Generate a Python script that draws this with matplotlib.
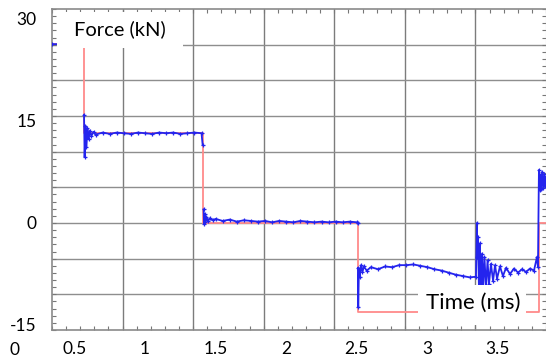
import numpy as np
import matplotlib
matplotlib.use('Agg')
import matplotlib.pyplot as plt
from matplotlib.patches import Rectangle
from matplotlib.ticker import FixedLocator

plt.rcParams['font.family'] = ['Lato', 'DejaVu Sans']

# commanded force (kN) vs time (ms)
cmd_t = [0.341, 0.568, 0.568, 1.410, 1.410, 2.505, 2.505, 3.788, 3.788, 3.840]
cmd_f = [26.3, 26.3, 13.2, 13.2, 0.0, 0.0, -13.1, -13.1, 0.0, 0.0]

# measured force (kN) vs time (ms), nan = no samples drawn on the fast edges
meas_t = [0.341, 0.450, 0.560, np.nan,
          0.568, 0.572, 0.578, 0.585, 0.592, 0.600, 0.610, 0.620, 0.635,
          0.650, 0.700, 0.750, 0.800, 0.850, 0.900, 0.950, 1.000, 1.050,
          1.100, 1.150, 1.200, 1.250, 1.300, 1.350, 1.400, 1.408, np.nan,
          1.415, 1.418, 1.422, 1.428, 1.435, 1.445, 1.460, 1.480, 1.500,
          1.550, 1.600, 1.650, 1.700, 1.750, 1.800, 1.850, 1.900, 1.950,
          2.000, 2.050, 2.100, 2.150, 2.200, 2.250, 2.300, 2.350, 2.400,
          2.450, 2.500, 2.505, np.nan,
          2.508, 2.510, 2.515, 2.520, 2.530, 2.540, 2.550, 2.570, 2.600,
          2.650, 2.700, 2.750, 2.800, 2.850, 2.900, 2.950, 3.000, 3.050,
          3.100, 3.150, 3.200, 3.250, 3.300, 3.344,
          3.351, 3.354, 3.358, 3.365, 3.372, 3.379, 3.387, 3.394, 3.404,
          3.415, 3.426, 3.436, 3.450, 3.465, 3.479, 3.493, 3.514, 3.535,
          3.557, 3.585, 3.613, 3.642, 3.670, 3.698, 3.727, 3.755, 3.776,
          3.783, 3.790, 3.795, 3.800, 3.805, 3.812, 3.820, 3.828, 3.835,
          3.840]
meas_f = [26.3, 26.3, 26.3, np.nan,
          15.9, 9.7, 14.3, 11.2, 13.9, 12.3, 13.6, 12.8, 13.4,
          13.0, 13.3, 13.1, 13.3, 13.2, 13.1, 13.3, 13.2, 13.1,
          13.3, 13.2, 13.3, 13.1, 13.2, 13.3, 13.2, 11.5, np.nan,
          2.0, -0.2, 1.3, 0.2, 0.9, 0.3, 0.7, 0.4, 0.6,
          0.3, 0.5, 0.2, 0.4, 0.3, 0.2, 0.3, 0.1, 0.3,
          0.2, 0.1, 0.3, 0.2, 0.1, 0.2, 0.1, 0.2, 0.1,
          0.2, 0.1, 0.0, np.nan,
          -6.6, -12.4, -6.8, -8.0, -6.2, -7.2, -6.4, -7.0, -6.5,
          -6.8, -6.4, -6.5, -6.2, -6.2, -6.1, -6.3, -6.5, -6.8,
          -7.0, -7.3, -7.6, -7.8, -8.0, -7.9,
          0.0, -5.0, -2.0, -9.5, -3.0, -11.0, -4.5, -10.0, -5.0,
          -9.5, -5.5, -9.0, -6.0, -8.5, -6.2, -8.2, -6.4, -7.8,
          -6.6, -7.5, -6.7, -7.3, -6.8, -7.2, -6.7, -7.0, -5.0,
          -6.5, 7.8, 4.8, 7.0, 5.0, 7.5, 5.2, 7.2, 5.5,
          6.8]

x_ticks = [0.5, 1, 1.5, 2, 2.5, 3, 3.5]
x_labels = ['0.5', '1', '1.5', '2', '2.5', '3', '3.5']
y_ticks = [30, 15, 0, -15]
y_labels = ['30', '15', '0', '-15']

x_lim = (0.341, 3.840)
y_lim = (-15.74, 31.47)
n_xdiv = 7
n_ydiv = 9

fig = plt.figure(figsize=(5.46, 3.6), dpi=100)
ax = fig.add_axes([52 / 546, 30 / 360, 494 / 546, 321 / 360])

ax.set_xlim(*x_lim)
ax.set_ylim(*y_lim)

# scope graticule
x_div = (x_lim[1] - x_lim[0]) / n_xdiv
y_div = (y_lim[1] - y_lim[0]) / n_ydiv
for k in range(1, n_xdiv):
    ax.axvline(x_lim[0] + k * x_div, color='#7c7c7c', lw=1.0, zorder=0)
for k in range(1, n_ydiv):
    ax.axhline(y_lim[0] + k * y_div, color='#8e8e8e', lw=1.0, zorder=0)

ax.xaxis.set_minor_locator(FixedLocator(x_lim[0] + np.arange(0, n_xdiv * 5 + 1) * x_div / 5))
ax.yaxis.set_minor_locator(FixedLocator(y_lim[0] + np.arange(0, n_ydiv * 5 + 1) * y_div / 5))
ax.tick_params(which='minor', direction='in', length=3, width=0.8, color='#777777',
               top=True, bottom=True, left=True, right=True)

ax.set_xticks(x_ticks)
ax.set_xticklabels(x_labels)
ax.set_yticks(y_ticks)
ax.set_yticklabels(y_labels)
ax.tick_params(which='major', length=0, labelsize=12.5, labelcolor='black')
ax.tick_params(axis='x', which='major', pad=8)
ax.tick_params(axis='y', which='major', pad=11)

for side in ['left', 'bottom', 'top']:
    ax.spines[side].set_color('#8a8a8a')
    ax.spines[side].set_linewidth(1.2)
ax.spines['right'].set_color('#c8c8c8')

ax.plot(cmd_t, cmd_f, color='#ff8a8a', lw=1.3, zorder=2)
ax.plot(meas_t, meas_f, color='#2424ee', lw=1.3, marker='+', ms=3.5, mew=0.9, zorder=3)

# label boxes laid over the screen capture
ax.add_patch(Rectangle((0.010, 0.878), 0.255, 0.112, transform=ax.transAxes,
                       facecolor='white', edgecolor='none', zorder=5))
ax.text(0.1377, 0.938, 'Force (kN)', transform=ax.transAxes, fontsize=14.5,
        ha='center', va='center', zorder=6)
ax.add_patch(Rectangle((0.741, 0.016), 0.219, 0.124, transform=ax.transAxes,
                       facecolor='white', edgecolor='none', zorder=5))
ax.text(0.852, 0.084, 'Time (ms)', transform=ax.transAxes, fontsize=16,
        ha='center', va='center', zorder=6)

fig.text(15 / 546, 10 / 360, '0', fontsize=12.5, ha='center', va='center')

fig.savefig('out.png', dpi=100)
